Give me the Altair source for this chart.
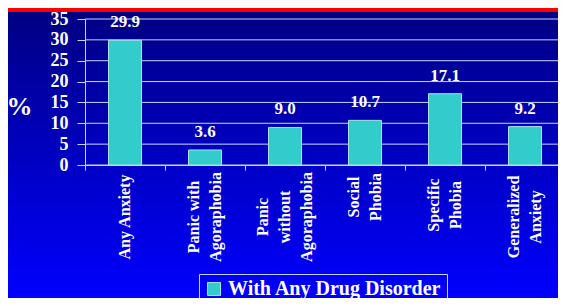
import altair as alt
import pandas as pd

categories = ["Any Anxiety", "Panic with Agoraphobia", "Panic without Agoraphobia",
              "Social Phobia", "Specific Phobia", "Generalized Anxiety"]
label_lines = [["Any Anxiety"], ["Panic with", "Agoraphobia"], ["Panic", "without", "Agoraphobia"],
               ["Social", "Phobia"], ["Specific", "Phobia"], ["Generalized", "Anxiety"]]
values = [29.9, 3.6, 9.0, 10.7, 17.1, 9.2]
series_name = "With Any Drug Disorder"
y_ticks = [0, 5, 10, 15, 20, 25, 30, 35]

FONT = "Liberation Serif"
W, H = 480, 146
STEP = W / len(categories)
PAD_L, PAD_T, PAD_R, PAD_B = 77, 11, -7, 133
LIGHT = "#c4d4ff"
TURQ = "#33cccc"

df = pd.DataFrame({"cat": categories, "val": values, "series": [series_name] * len(values)})
rows = []
for c, lines in zip(categories, label_lines):
    n = len(lines)
    m = max(len(s) for s in lines)
    for i, s in enumerate(lines):
        rows.append({"cat": c, "line": s, "off": i - (n - 1) / 2, "maxlen": m})
lab = pd.DataFrame(rows)
grid = pd.DataFrame({"t": y_ticks})

xscale = alt.Scale(domain=categories, paddingInner=0, paddingOuter=0)
yscale = alt.Scale(domain=[0, 35])

bg = alt.Chart(df).mark_rect(
    color=alt.Gradient(gradient="linear", x1=0, x2=0, y1=0, y2=1,
                       stops=[alt.GradientStop(color="#000082", offset=0),
                              alt.GradientStop(color="#0000ff", offset=1)])
).encode(x=alt.value(-PAD_L), x2=alt.value(W + 10), y=alt.value(-PAD_T), y2=alt.value(H + PAD_B))

redline = alt.Chart(df).mark_rule(color="#ff0000", strokeWidth=3.5).encode(
    x=alt.value(-PAD_L), x2=alt.value(W + 10), y=alt.value(-PAD_T + 1.8))

gridlines = alt.Chart(grid).mark_rule(color=LIGHT, strokeWidth=1).encode(
    y=alt.Y("t:Q", scale=yscale, axis=None))

bars = alt.Chart(df).mark_bar(width=33, stroke="#a8e4e8", strokeWidth=1).encode(
    x=alt.X("cat:N", scale=xscale, sort=categories,
            axis=alt.Axis(labels=False, title=None, tickBand="extent", tickSize=5,
                          tickColor=LIGHT, domainColor=LIGHT, grid=False, zindex=1)),
    y=alt.Y("val:Q", scale=yscale,
            axis=alt.Axis(orient="left", values=y_ticks, title="%", titleAngle=0,
                          titleX=-66, titleY=87,
                          titleAlign="center", titleBaseline="middle", titleFont=FONT,
                          titleFontSize=26, titleFontWeight="bold", titleColor="white",
                          labelFont=FONT, labelFontSize=18, labelFontWeight="bold",
                          labelColor="white", labelPadding=9, tickSize=8, tickColor=LIGHT,
                          domainColor=LIGHT, grid=False, zindex=1)),
    color=alt.Color("series:N", scale=alt.Scale(range=[TURQ]),
                    legend=alt.Legend(title=None, orient="none", legendX=114, legendY=255,
                                      symbolType="square", symbolSize=170,
                                      symbolStrokeColor="#a8e4e8", symbolStrokeWidth=1,
                                      symbolFillColor=TURQ,
                                      labelFont=FONT, labelFontSize=20, labelFontWeight="bold",
                                      labelColor="white", strokeColor=LIGHT, padding=5,
                                      labelLimit=400)),
)

vlabels = alt.Chart(df).mark_text(font=FONT, fontSize=17, fontWeight="bold", color="white",
                                  baseline="bottom", dy=-9).encode(
    x=alt.X("cat:N", scale=xscale, sort=categories),
    y=alt.Y("val:Q", scale=yscale, axis=None),
    text=alt.Text("val:Q", format=".1f"),
)

catlabels = alt.Chart(lab).transform_calculate(
    ypos=f"{H + 8} + 4 * datum.maxlen"
).mark_text(font=FONT, fontSize=16, fontWeight="bold", color="white", angle=270,
            align="center", baseline="middle").encode(
    x=alt.X("cat:N", scale=xscale, sort=categories),
    xOffset=alt.XOffset("off:Q", scale=alt.Scale(domain=[-1, 1],
                                                 range=[STEP / 2 - 22, STEP / 2 + 22])),
    y=alt.Y("ypos:Q", scale=None, axis=None),
    text="line:N",
)

chart = alt.layer(bg, redline, gridlines, bars, vlabels, catlabels).resolve_scale(
    y="independent"
).properties(
    width=W, height=H,
    autosize=alt.AutoSizeParams(type="none"),
    padding={"left": PAD_L, "top": PAD_T, "right": PAD_R, "bottom": PAD_B},
).configure_view(stroke=None).configure(background="#0000ff")

chart.save("out.html", embed_options={"renderer": "svg", "actions": False})
